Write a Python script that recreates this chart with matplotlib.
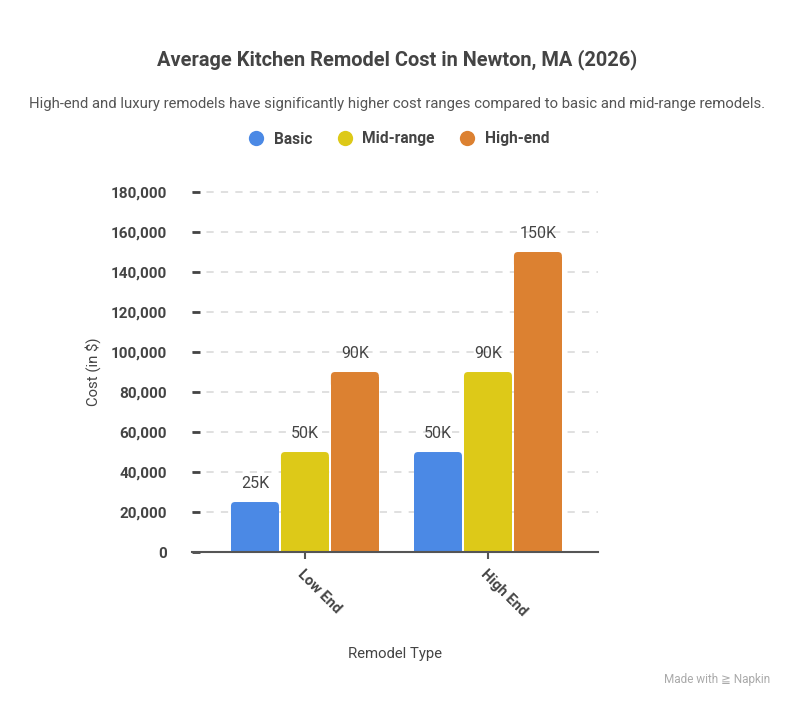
import numpy as np
import matplotlib.pyplot as plt
from matplotlib.patches import FancyBboxPatch

plt.rcParams['font.family'] = ['Roboto', 'DejaVu Sans']

# data
categories = ['Low End', 'High End']
series = ['Basic', 'Mid-range', 'High-end']
values = {
    'Basic': [25000, 50000],
    'Mid-range': [50000, 90000],
    'High-end': [90000, 150000],
}
colors = {'Basic': '#4B89E5', 'Mid-range': '#DDC918', 'High-end': '#DC8131'}
yticks = [0, 20000, 40000, 60000, 80000, 100000, 120000, 140000, 160000, 180000]

fig = plt.figure(figsize=(7.94, 7.08), dpi=100)
ax = fig.add_axes([0.2418, 0.2203, 0.5113, 0.5085])

x = np.arange(len(categories))
width = 0.262
step = 0.273
for i, s in enumerate(series):
    for xi, v in zip(x, values[s]):
        left = xi + (i - 1) * step - width / 2
        # square base plus slightly rounded top
        ax.bar(left + width / 2, v - 2500, width=width, color=colors[s], zorder=3)
        ax.add_patch(FancyBboxPatch((left, v - 8000), width, 8000,
                                    boxstyle='round,pad=0,rounding_size=0.022',
                                    mutation_aspect=2000 / 0.022,
                                    facecolor=colors[s], edgecolor='none', zorder=3))
        ax.annotate('%dK' % (v // 1000), (xi + (i - 1) * step, v),
                    xytext=(0, 8), textcoords='offset points',
                    ha='center', va='bottom', fontsize=11.5, color='#444444')

ax.set_xlim(-0.617, 1.601)
ax.set_ylim(0, 180000)
ax.set_yticks(yticks)
ax.set_yticklabels(['{:,}'.format(t) for t in yticks], fontsize=11,
                   fontweight='bold', color='#444444')
ax.set_xticks(x)
ax.set_xticklabels(categories, rotation=-45, ha='left', va='top',
                   rotation_mode='anchor', fontsize=10.5, fontweight='bold',
                   color='#444444')
ax.tick_params(axis='y', direction='in', length=6, width=2, color='#444444',
               pad=18)
ax.tick_params(axis='x', direction='out', length=5, width=1.5, color='#555555',
               pad=6)
for t in ax.get_yticklines():
    t.set_clip_on(False)

for sp in ['top', 'right', 'left']:
    ax.spines[sp].set_visible(False)
ax.spines['bottom'].set_color('#555555')
ax.spines['bottom'].set_linewidth(1.5)
ax.spines['bottom'].set_zorder(4)

for t in yticks[1:]:
    ax.axhline(t, color='#DDDDDD', lw=1.3, ls=(0, (4, 4)), zorder=1,
               clip_on=False)

ax.set_ylabel('Cost (in $)', fontsize=10.7, color='#444444')
ax.set_xlabel('Remodel Type', fontsize=10.7, color='#444444')
ax.xaxis.set_label_coords(0.5, -0.265)
ax.yaxis.set_label_coords(-0.225, 0.5)

fig.text(0.5, 1 - 60 / 708, 'Average Kitchen Remodel Cost in Newton, MA (2026)',
         ha='center', va='center', fontsize=14.4, fontweight='bold', color='#444444')
fig.text(0.5, 1 - 104 / 708,
         'High-end and luxury remodels have significantly higher cost ranges compared to basic and mid-range remodels.',
         ha='center', va='center', fontsize=10.7, color='#555555')

# legend
handles = [plt.Line2D([], [], marker='o', ls='none', markersize=11,
                      markerfacecolor=colors[s], markeredgecolor='none')
           for s in series]
leg = fig.legend(handles, series, loc='center', bbox_to_anchor=(0.5, 1 - 139 / 708),
                 ncol=3, frameon=False, handletextpad=0.4, columnspacing=1.3,
                 handlelength=1.5, prop={'weight': 'bold', 'size': 11.2})
for txt in leg.get_texts():
    txt.set_color('#444444')

fig.text(0.97, 1 - 680 / 708, 'Made with \u2267 Napkin', ha='right', va='center',
         fontsize=8.5, color='#AAAAAA')

fig.savefig('out.png', dpi=100)
